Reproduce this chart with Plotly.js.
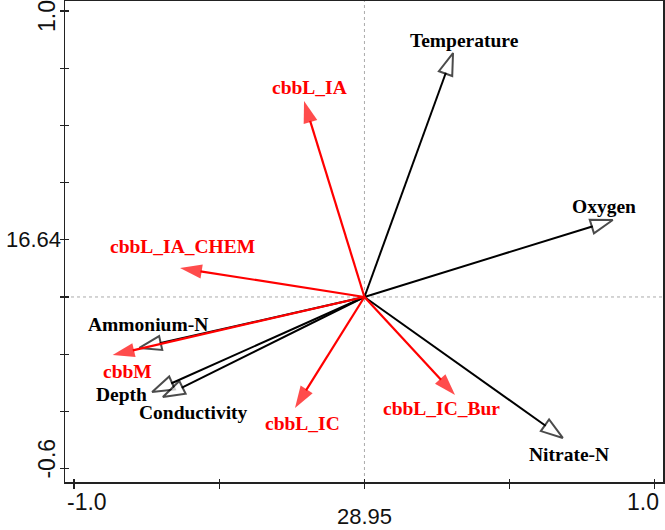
<!DOCTYPE html>
<html><head><meta charset="utf-8">
<script src="https://cdn.plot.ly/plotly-3.0.1.min.js"></script>
<style>html,body{margin:0;padding:0;background:#fff;} #chart{width:665px;height:530px;}</style>
</head><body><div id="chart"></div>
<script>
// ---- data ----
const envNames = ['Temperature', 'Oxygen', 'Nitrate-N', 'Ammonium-N', 'Depth', 'Conductivity'];
const envX = [0.305, 0.855, 0.683, -0.775, -0.731, -0.694];
const envY = [0.853, 0.269, -0.493, -0.178, -0.332, -0.350];
const geneNames = ['cbbL_IA', 'cbbL_IA_CHEM', 'cbbM', 'cbbL_IC', 'cbbL_IC_Bur'];
const geneX = [-0.208, -0.635, -0.867, -0.239, 0.312];
const geneY = [0.685, 0.101, -0.203, -0.388, -0.343];
const xTickVals = [-1, -0.5, 0, 0.5, 1];
const yTickVals = [-0.6, -0.4, -0.2, 0, 0.2, 0.4, 0.6, 0.8, 1.0];
const xEndTicks = [-1.0, 1.0];
const xEndLabels = ['-1.0', '1.0'];
const yEndTicks = [-0.6, 1.0];
const yEndLabels = ['-0.6', '1.0'];
const xAxisTitle = '28.95';
const yAxisTitle = '16.64';

// ---- styles ----
const RED = '#ff0000';
const envLabelShift = [[11, 13], [-9, 14], [6, -17], [9, 23], [-31, -3], [31, -15]];
const geneLabelShift = [[5, 14], [2, 22], [15, -16], [7, -16], [-14, -13]];
const labelFont = {family: 'Liberation Serif, Times New Roman, serif', size: 19.5, weight: 'bold'};
const tickFont = {family: 'Liberation Sans, Arial, sans-serif', size: 23, color: '#111'};
const titleFont = {family: 'Liberation Sans, Arial, sans-serif', size: 22, color: '#111'};

const traces = [];
const annotations = [];
envNames.forEach((n, i) => {
  traces.push({
    x: [0, envX[i]], y: [0, envY[i]], mode: 'lines+markers', type: 'scatter',
    line: {color: '#000', width: 2},
    marker: {symbol: 'arrow', size: [0, 23], angleref: 'previous', color: '#fff',
             line: {color: '#000', width: 2}},
    hoverinfo: 'skip', showlegend: false, cliponaxis: false
  });
  annotations.push({x: envX[i], y: envY[i], xref: 'x', yref: 'y', text: n, showarrow: false,
    xshift: envLabelShift[i][0], yshift: envLabelShift[i][1],
    font: Object.assign({color: '#000'}, labelFont)});
});
geneNames.forEach((n, i) => {
  traces.push({
    x: [0, geneX[i]], y: [0, geneY[i]], mode: 'lines+markers', type: 'scatter',
    line: {color: RED, width: 2.2},
    marker: {symbol: 'arrow', size: [0, 23], angleref: 'previous', color: RED,
             line: {color: RED, width: 0}},
    hoverinfo: 'skip', showlegend: false, cliponaxis: false
  });
  annotations.push({x: geneX[i], y: geneY[i], xref: 'x', yref: 'y', text: n, showarrow: false,
    xshift: geneLabelShift[i][0], yshift: geneLabelShift[i][1],
    font: Object.assign({color: RED}, labelFont)});
});
// dummy trace for overlay axes (inner half of crossing ticks)
traces.push({x: [], y: [], xaxis: 'x2', yaxis: 'y2', type: 'scatter', mode: 'markers', showlegend: false, hoverinfo: 'skip'});

// end tick labels
annotations.push({x: xEndTicks[0], y: 0, xref: 'x', yref: 'paper', text: xEndLabels[0], showarrow: false,
  xanchor: 'left', yanchor: 'middle', xshift: -9, yshift: -20, font: tickFont});
annotations.push({x: xEndTicks[1], y: 0, xref: 'x', yref: 'paper', text: xEndLabels[1], showarrow: false,
  xanchor: 'right', yanchor: 'middle', xshift: 6, yshift: -20, font: tickFont});
annotations.push({x: 0, y: yEndTicks[0], xref: 'paper', yref: 'y', text: yEndLabels[0], showarrow: false,
  textangle: -90, xanchor: 'center', yanchor: 'middle', xshift: -18, yshift: 10, font: tickFont});
annotations.push({x: 0, y: yEndTicks[1], xref: 'paper', yref: 'y', text: yEndLabels[1], showarrow: false,
  textangle: -90, xanchor: 'center', yanchor: 'middle', xshift: -18, yshift: -5, font: tickFont});
// axis titles
annotations.push({x: 0, y: 0, xref: 'x', yref: 'paper', text: xAxisTitle, showarrow: false,
  xanchor: 'center', yanchor: 'bottom', yshift: -48, borderpad: 0, font: titleFont});
annotations.push({x: 0, y: 0.2, xref: 'paper', yref: 'y', text: yAxisTitle, showarrow: false,
  xanchor: 'right', yanchor: 'middle', xshift: -2, font: titleFont});

const xr = [-1.031, 1.028], yr = [-0.647, 1.035];
const layout = {
  width: 665, height: 530,
  margin: {l: 65, r: 2, t: 1, b: 48, pad: 0},
  paper_bgcolor: '#fff', plot_bgcolor: '#fff',
  showlegend: false,
  xaxis: {range: xr, showline: true, mirror: true, linecolor: '#222', linewidth: 1.5,
          ticks: 'outside', ticklen: 5, tickwidth: 1.2, tickcolor: '#222', tickvals: xTickVals,
          showticklabels: false, showgrid: false, zeroline: false, fixedrange: true},
  yaxis: {range: yr, showline: true, mirror: true, linecolor: '#222', linewidth: 1.5,
          ticks: 'outside', ticklen: 4, tickwidth: 1.2, tickcolor: '#222', tickvals: yTickVals,
          showticklabels: false, showgrid: false, zeroline: false, fixedrange: true},
  xaxis2: {range: xr, overlaying: 'x', anchor: 'y2', side: 'bottom', ticks: 'inside', ticklen: 3,
           tickwidth: 1.2, tickcolor: '#222', tickvals: xTickVals, showticklabels: false,
           showline: false, showgrid: false, zeroline: false, fixedrange: true},
  yaxis2: {range: yr, overlaying: 'y', anchor: 'x2', side: 'left', ticks: 'inside', ticklen: 4,
           tickwidth: 1.2, tickcolor: '#222', tickvals: yTickVals, showticklabels: false,
           showline: false, showgrid: false, zeroline: false, fixedrange: true},
  shapes: [
    {type: 'line', xref: 'x', yref: 'paper', x0: 0, x1: 0, y0: 0, y1: 1, layer: 'below',
     line: {color: '#aaa', width: 1, dash: 'dot'}},
    {type: 'line', xref: 'paper', yref: 'y', x0: 0, x1: 1, y0: 0, y1: 0, layer: 'below',
     line: {color: '#aaa', width: 1, dash: 'dot'}}
  ],
  annotations: annotations
};
Plotly.newPlot('chart', traces, layout, {staticPlot: true, displayModeBar: false});
</script>
</body></html>
